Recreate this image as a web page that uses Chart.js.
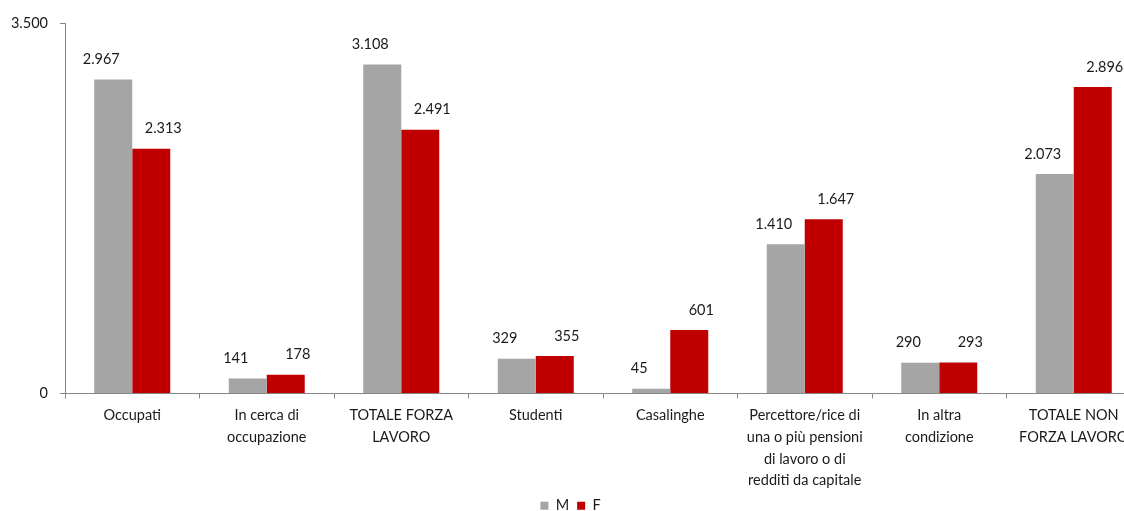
<!DOCTYPE html>
<html>
<head>
<meta charset="utf-8">
<script src="https://cdn.jsdelivr.net/npm/chart.js@4.4.1/dist/chart.umd.min.js"></script>
<style>
  html, body { margin: 0; padding: 0; background: #fff; overflow: hidden; }
  #wrap { position: relative; width: 1150px; height: 523px; }
</style>
</head>
<body>
<div id="wrap"><canvas id="c"></canvas></div>
<script>
const categories = [
  "Occupati",
  ["In cerca di", "occupazione"],
  ["TOTALE FORZA", "LAVORO"],
  "Studenti",
  "Casalinghe",
  ["Percettore/rice di", "una o più pensioni", "di lavoro o di", "redditi da capitale"],
  ["In altra", "condizione"],
  ["TOTALE NON", "FORZA LAVORO"]
];
const seriesM = [2967, 141, 3108, 329, 45, 1410, 290, 2073];
const seriesF = [2313, 178, 2491, 355, 601, 1647, 293, 2896];
const seriesNames = ["M", "F"];
const yTicks = [0, 3500];

const fmt = v => String(v).replace(/\B(?=(\d{3})+(?!\d))/g, ".");
const FONT = "Lato, 'Open Sans', sans-serif";
const TEXT = "#1a1a1a";
const FS = 14.5;

const labelPlugin = {
  id: "valueLabels",
  afterDatasetsDraw(chart) {
    const ctx = chart.ctx;
    ctx.save();
    ctx.font = FS + "px " + FONT;
    ctx.fillStyle = TEXT;
    ctx.textAlign = "center";
    ctx.textBaseline = "middle";
    const dxs = [-12, 12];
    chart.data.datasets.forEach((ds, di) => {
      const meta = chart.getDatasetMeta(di);
      meta.data.forEach((bar, i) => {
        ctx.fillText(fmt(ds.data[i]), bar.x + dxs[di], bar.y - 20);
      });
    });
    ctx.restore();
  }
};

new Chart(document.getElementById("c"), {
  type: "bar",
  data: {
    labels: categories,
    datasets: [
      { label: seriesNames[0], data: seriesM, backgroundColor: "#A5A5A5" },
      { label: seriesNames[1], data: seriesF, backgroundColor: "#C00000" }
    ]
  },
  options: {
    responsive: true,
    maintainAspectRatio: false,
    animation: false,
    layout: { padding: { left: 0, right: 9, top: 23, bottom: 0 } },
    datasets: { bar: { categoryPercentage: 0.565, barPercentage: 1.0 } },
    plugins: {
      tooltip: { enabled: false },
      legend: {
        position: "bottom",
        labels: {
          font: { family: FONT, size: FS },
          color: TEXT,
          boxWidth: 8,
          boxHeight: 8,
          padding: 8
        }
      }
    },
    scales: {
      x: {
        grid: { display: true, drawOnChartArea: false, drawTicks: true, tickLength: 5, color: "#868686", offset: true },
        border: { color: "#868686", width: 1 },
        ticks: {
          font: { family: FONT, size: FS, lineHeight: 1.5 },
          color: TEXT,
          maxRotation: 0,
          autoSkip: false,
          padding: 6
        },
        afterFit(scale) { scale.height = 97; }
      },
      y: {
        min: 0,
        max: 3500,
        afterBuildTicks(scale) { scale.ticks = yTicks.map(v => ({ value: v })); },
        grid: { display: true, drawOnChartArea: false, drawTicks: true, tickLength: 5, color: "#868686" },
        border: { color: "#868686", width: 1 },
        ticks: {
          font: { family: FONT, size: FS },
          color: TEXT,
          padding: 12,
          callback: v => fmt(v)
        },
        afterFit(scale) { scale.width = 65; }
      }
    }
  },
  plugins: [labelPlugin]
});
</script>
</body>
</html>
